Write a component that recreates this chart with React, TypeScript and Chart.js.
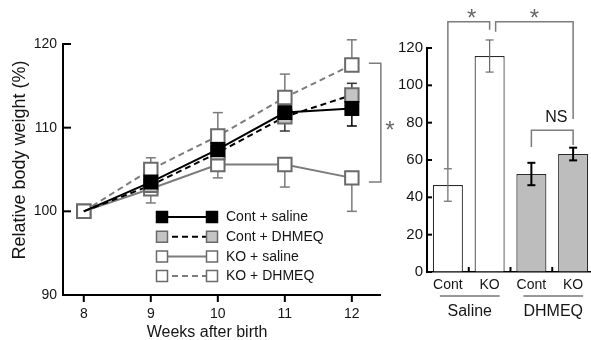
import React, { useEffect, useRef } from 'react';
import { Chart, registerables } from 'chart.js';
Chart.register(...registerables);

// ---------- data: left line chart ----------
const weeks = [8, 9, 10, 11, 12];
const contSaline = [100, 103.5, 107.4, 111.8, 112.3];
const contDhmeq = [100, 103.1, 107.0, 111.3, 113.9];
const koSaline = [100, 102.7, 105.6, 105.6, 104.0];
const koDhmeq = [100, 105.0, 109.0, 113.6, 117.5];
const contSalineErrUp = [0, 0, 0, 0, 0];
const contSalineErrDown = [0, 0, 0, 0, 2.1];
const contDhmeqErrUp = [0, 0, 0, 0, 1.4];
const contDhmeqErrDown = [0, 0, 0, 1.7, 0];
const koSalineErrUp = [0, 0, 0, 0, 0];
const koSalineErrDown = [0, 1.7, 1.6, 2.7, 4.0];
const koDhmeqErrUp = [0, 1.4, 2.8, 2.8, 3.0];
const koDhmeqErrDown = [0, 0, 0, 0, 0];
const seriesLabels = ['Cont + saline', 'Cont + DHMEQ', 'KO + saline', 'KO + DHMEQ'];
const lineYTicks = [90, 100, 110, 120];
const lineXTitle = 'Weeks after birth';
const lineYTitle = 'Relative body weight (%)';

// ---------- data: right bar chart ----------
const barCategories = ['Cont', 'KO', 'Cont', 'KO'];
const barGroups = ['Saline', 'DHMEQ'];
const barValues = [46.6, 115.7, 52.5, 63.2];
const barErrors = [8.7, 8.6, 6.0, 3.4];
const barYTicks = [0, 20, 40, 60, 80, 100, 120];

// ---------- styles ----------
const FONT = '"Liberation Sans", Arial, Helvetica, sans-serif';
const TEXT = '#151515';
const GRAY_LINE = '#7c7c7c';
const MARK_BORDER = '#6a6a6a';
const barFill = ['#ffffff', '#ffffff', '#bdbdbd', '#bdbdbd'];
const barErrColor = ['#6a6a6a', '#6a6a6a', '#000000', '#000000'];
const barErrWidth = [1.2, 1.2, 2, 2];

function seg(ctx: CanvasRenderingContext2D, x0: number, y0: number, x1: number, y1: number) {
  ctx.beginPath();
  ctx.moveTo(x0, y0);
  ctx.lineTo(x1, y1);
  ctx.stroke();
}

function makeSet(label: string, vals: number[], up: number[], down: number[], style: any) {
  return {
    label,
    data: weeks.map((w, i) => ({ x: w, y: vals[i] })),
    errUp: up,
    errDown: down,
    pointStyle: 'rect',
    tension: 0,
    ...style,
  };
}

const leftPlugin = {
  id: 'leftDecor',
  beforeDatasetsDraw(chart: any) {
    const { ctx, scales } = chart;
    const x = scales.x, y = scales.y;
    chart.data.datasets.forEach((ds: any) => {
      ctx.save();
      ctx.strokeStyle = ds.errColor;
      ctx.lineWidth = 1.5;
      ds.data.forEach((p: any, i: number) => {
        const px = x.getPixelForValue(p.x);
        const py0 = y.getPixelForValue(p.y);
        const parts: [number, number][] = [[ds.errUp[i], 1], [ds.errDown[i], -1]];
        parts.forEach(([e, s]) => {
          if (!e) return;
          const py1 = y.getPixelForValue(p.y + s * e);
          seg(ctx, px, py0, px, py1);
          seg(ctx, px - 5, py1, px + 5, py1);
        });
      });
      ctx.restore();
    });
  },
  afterDraw(chart: any) {
    const { ctx, chartArea: a, scales } = chart;
    const x = scales.x, y = scales.y;
    ctx.save();
    // tick marks
    ctx.strokeStyle = '#000';
    ctx.lineWidth = 2;
    lineYTicks.forEach((v) => {
      const py = y.getPixelForValue(v);
      seg(ctx, a.left, py, a.left + 8, py);
    });
    weeks.forEach((v) => {
      const px = x.getPixelForValue(v);
      seg(ctx, px, a.bottom, px, a.bottom + 7);
    });
    // significance bracket
    const px12 = x.getPixelForValue(12);
    const bx0 = px12 + 17, bx1 = px12 + 29;
    const by0 = y.getPixelForValue(koDhmeq[4] + 0.2);
    const by1 = y.getPixelForValue(koSaline[4] - 0.5);
    ctx.strokeStyle = GRAY_LINE;
    ctx.lineWidth = 1.5;
    ctx.beginPath();
    ctx.moveTo(bx0, by0);
    ctx.lineTo(bx1, by0);
    ctx.lineTo(bx1, by1);
    ctx.lineTo(bx0, by1);
    ctx.stroke();
    ctx.fillStyle = '#666';
    ctx.font = `24px ${FONT}`;
    ctx.textAlign = 'center';
    ctx.textBaseline = 'alphabetic';
    ctx.fillText('*', bx1 + 9, (by0 + by1) / 2 + 15);

    // legend
    const lx0 = a.left + 99, lx1 = a.left + 149, ly0 = a.top + 173;
    chart.data.datasets.forEach((ds: any, i: number) => {
      const ly = ly0 + i * 19.7;
      ctx.save();
      ctx.strokeStyle = ds.borderColor;
      ctx.lineWidth = ds.borderWidth;
      ctx.setLineDash(ds.borderDash || []);
      seg(ctx, lx0, ly, lx1, ly);
      ctx.restore();
      [lx0, lx1].forEach((mx) => {
        ctx.fillStyle = ds.pointBackgroundColor;
        ctx.strokeStyle = ds.pointBorderColor;
        ctx.lineWidth = 1.5;
        ctx.beginPath();
        ctx.rect(mx - 5.5, ly - 5.5, 11, 11);
        ctx.fill();
        ctx.stroke();
      });
      ctx.fillStyle = TEXT;
      ctx.font = `14px ${FONT}`;
      ctx.textAlign = 'left';
      ctx.textBaseline = 'middle';
      ctx.fillText(ds.label, lx1 + 14, ly + 0.5);
    });

    // axis titles
    ctx.fillStyle = TEXT;
    ctx.font = `16px ${FONT}`;
    ctx.textAlign = 'center';
    ctx.textBaseline = 'middle';
    ctx.fillText(lineXTitle, a.left + 144, a.bottom + 38);
    ctx.save();
    ctx.translate(20, a.top + 116);
    ctx.rotate(-Math.PI / 2);
    ctx.font = `18px ${FONT}`;
    ctx.fillText(lineYTitle, 0, 0);
    ctx.restore();
    ctx.restore();
  },
};

const rightPlugin = {
  id: 'rightDecor',
  afterDraw(chart: any) {
    const { ctx, chartArea: a, scales } = chart;
    const x = scales.x, y = scales.y;
    ctx.save();
    // error bars
    barValues.forEach((v, i) => {
      const px = x.getPixelForValue(i);
      const top = y.getPixelForValue(v + barErrors[i]);
      const bot = y.getPixelForValue(v - barErrors[i]);
      ctx.strokeStyle = barErrColor[i];
      ctx.lineWidth = barErrWidth[i];
      seg(ctx, px, top, px, bot);
      seg(ctx, px - 4, top, px + 4, top);
      seg(ctx, px - 4, bot, px + 4, bot);
    });
    // ticks
    ctx.strokeStyle = '#000';
    ctx.lineWidth = 2;
    barYTicks.forEach((v) => {
      const py = y.getPixelForValue(v);
      seg(ctx, a.left, py, a.left + 5, py);
    });
    for (let i = 0; i < barCategories.length - 1; i++) {
      const px = (x.getPixelForValue(i) + x.getPixelForValue(i + 1)) / 2;
      seg(ctx, px, a.bottom, px, a.bottom - 5);
    }
    // group labels
    barGroups.forEach((g, gi) => {
      const c0 = x.getPixelForValue(gi * 2);
      const c1 = x.getPixelForValue(gi * 2 + 1);
      ctx.strokeStyle = '#333';
      ctx.lineWidth = 1.2;
      seg(ctx, c0 - 8, a.bottom + 24, c1 + 10, a.bottom + 24);
      ctx.fillStyle = TEXT;
      ctx.font = `16px ${FONT}`;
      ctx.textAlign = 'center';
      ctx.textBaseline = 'middle';
      ctx.fillText(g, (c0 + c1) / 2 + 1, a.bottom + 40);
    });
    // brackets
    ctx.strokeStyle = GRAY_LINE;
    ctx.lineWidth = 1.5;
    const c = [0, 1, 2, 3].map((i) => x.getPixelForValue(i));
    const yTop = y.getPixelForValue(134);
    ctx.beginPath();
    ctx.moveTo(c[0], y.getPixelForValue(barValues[0] + barErrors[0]));
    ctx.lineTo(c[0], yTop);
    ctx.lineTo(c[1], yTop);
    ctx.lineTo(c[1], yTop + 8);
    ctx.stroke();
    ctx.beginPath();
    ctx.moveTo(c[1] + 6, yTop + 10);
    ctx.lineTo(c[1] + 6, yTop);
    ctx.lineTo(c[3], yTop);
    ctx.lineTo(c[3], y.getPixelForValue(82));
    ctx.stroke();
    const nsTop = y.getPixelForValue(76);
    ctx.beginPath();
    ctx.moveTo(c[2], y.getPixelForValue(67));
    ctx.lineTo(c[2], nsTop);
    ctx.lineTo(c[3], nsTop);
    ctx.lineTo(c[3], y.getPixelForValue(68));
    ctx.stroke();
    ctx.fillStyle = '#666';
    ctx.font = `24px ${FONT}`;
    ctx.textAlign = 'center';
    ctx.textBaseline = 'alphabetic';
    ctx.fillText('*', (c[0] + c[1]) / 2 + 3, yTop + 4);
    ctx.fillText('*', (c[1] + 6 + c[3]) / 2, yTop + 4);
    ctx.fillStyle = TEXT;
    ctx.font = `16px ${FONT}`;
    ctx.textBaseline = 'middle';
    ctx.fillText('NS', (c[2] + c[3]) / 2 + 4, nsTop - 13);
    ctx.restore();
  },
};

function leftConfig(): any {
  const datasets = [
    makeSet(seriesLabels[0], contSaline, contSalineErrUp, contSalineErrDown, {
      borderColor: '#000', borderWidth: 2,
      pointRadius: weeks.map((_, i) => (i === 0 ? 0 : 9.5)),
      pointBackgroundColor: '#000', pointBorderColor: '#000', pointBorderWidth: 1.5,
      errColor: '#000',
    }),
    makeSet(seriesLabels[1], contDhmeq, contDhmeqErrUp, contDhmeqErrDown, {
      borderColor: '#000', borderWidth: 2, borderDash: [6, 4],
      pointRadius: weeks.map((_, i) => (i === 0 ? 0 : 9.5)),
      pointBackgroundColor: '#c4c4c4', pointBorderColor: MARK_BORDER, pointBorderWidth: 2,
      errColor: '#333',
    }),
    makeSet(seriesLabels[2], koSaline, koSalineErrUp, koSalineErrDown, {
      borderColor: GRAY_LINE, borderWidth: 2,
      pointRadius: 9.5,
      pointBackgroundColor: '#fff', pointBorderColor: MARK_BORDER, pointBorderWidth: 2,
      errColor: '#7a7a7a',
    }),
    makeSet(seriesLabels[3], koDhmeq, koDhmeqErrUp, koDhmeqErrDown, {
      borderColor: GRAY_LINE, borderWidth: 2, borderDash: [6, 4],
      pointRadius: 9.5,
      pointBackgroundColor: '#fff', pointBorderColor: MARK_BORDER, pointBorderWidth: 2,
      errColor: '#7a7a7a',
    }),
  ];
  return {
    type: 'line',
    data: { datasets },
    options: {
      responsive: false,
      animation: false,
      devicePixelRatio: 1,
      layout: { padding: { top: 44, right: 20, left: 0, bottom: 0 } },
      plugins: { legend: { display: false }, tooltip: { enabled: false } },
      scales: {
        x: {
          type: 'linear', min: 7.69, max: 12.42,
          grid: { display: true, drawOnChartArea: false, drawTicks: false },
          border: { display: true, color: '#000', width: 2 },
          ticks: { padding: 11, color: TEXT, font: { size: 14, family: FONT } },
          afterBuildTicks: (s: any) => { s.ticks = weeks.map((v) => ({ value: v })); },
          afterFit: (s: any) => { s.height = 45; },
        },
        y: {
          type: 'linear', min: 90, max: 120,
          grid: { display: true, drawOnChartArea: false, drawTicks: false },
          border: { display: true, color: '#000', width: 2 },
          ticks: { padding: 6, color: TEXT, font: { size: 14, family: FONT } },
          afterBuildTicks: (s: any) => { s.ticks = lineYTicks.map((v) => ({ value: v })); },
          afterFit: (s: any) => { s.width = 63; },
        },
      },
    },
    plugins: [leftPlugin],
  };
}

function rightConfig(): any {
  return {
    type: 'bar',
    data: {
      labels: barCategories,
      datasets: [{
        data: barValues,
        backgroundColor: barFill,
        borderColor: '#2a2a2a',
        borderWidth: 1.2,
        barPercentage: 0.72,
        categoryPercentage: 1,
      }],
    },
    options: {
      responsive: false,
      animation: false,
      devicePixelRatio: 1,
      layout: { padding: { top: 48, right: 6, left: 0, bottom: 0 } },
      plugins: { legend: { display: false }, tooltip: { enabled: false } },
      scales: {
        x: {
          type: 'category', offset: true,
          grid: { display: true, drawOnChartArea: false, drawTicks: false, offset: true },
          border: { display: true, color: '#000', width: 1.5 },
          ticks: { padding: 5, color: TEXT, font: { size: 14, family: FONT } },
          afterFit: (s: any) => { s.height = 68; },
        },
        y: {
          type: 'linear', min: 0, max: 120,
          grid: { display: true, drawOnChartArea: false, drawTicks: false },
          border: { display: true, color: '#000', width: 2 },
          ticks: { padding: 4, color: TEXT, font: { size: 15, family: FONT } },
          afterBuildTicks: (s: any) => { s.ticks = barYTicks.map((v) => ({ value: v })); },
          afterFit: (s: any) => { s.width = 47; },
        },
      },
    },
    plugins: [rightPlugin],
  };
}

export default function App() {
  const leftRef = useRef<HTMLCanvasElement>(null);
  const rightRef = useRef<HTMLCanvasElement>(null);
  useEffect(() => {
    const c1 = new Chart(leftRef.current as HTMLCanvasElement, leftConfig());
    const c2 = new Chart(rightRef.current as HTMLCanvasElement, rightConfig());
    return () => {
      c1.destroy();
      c2.destroy();
    };
  }, []);
  return (
    <div style={{ position: 'fixed', left: 0, top: 0, width: 591, height: 340, overflow: 'hidden', background: '#fff' }}>
      <canvas ref={leftRef} width={400} height={340}
        style={{ position: 'absolute', left: 0, top: 0, width: 400, height: 340 }} />
      <canvas ref={rightRef} width={220} height={340}
        style={{ position: 'absolute', left: 380, top: 0, width: 220, height: 340 }} />
    </div>
  );
}
